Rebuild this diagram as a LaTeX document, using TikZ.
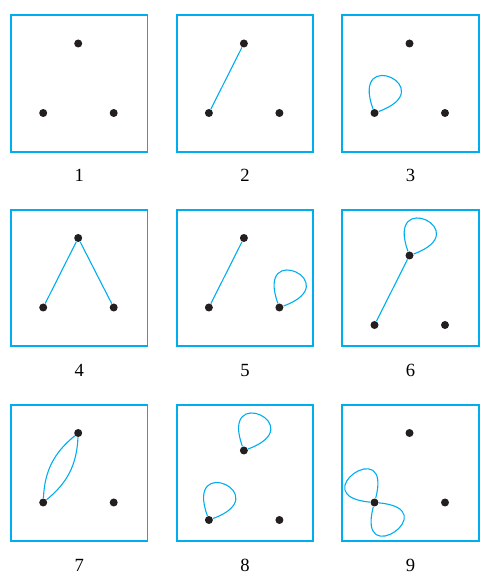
\documentclass[tikz,border=0pt]{standalone}
\usepackage{fontspec}
\setmainfont{Liberation Serif}
\usepackage{tikz}
\usetikzlibrary{positioning}
\definecolor{linecyan}{RGB}{0,174,239}
\definecolor{dotblack}{RGB}{35,31,32}

\begin{document}
\begin{tikzpicture}[
    x=0.5pt, y=0.5pt,
    box/.style={draw=linecyan, line width=0.9pt, minimum size=68.25pt, inner sep=0pt},
    dot/.style={circle, fill=dotblack, inner sep=0pt, minimum size=4pt},
    lbl/.style={font=\fontsize{9.3}{11}\selectfont, inner sep=0pt},
    edge/.style={draw=linecyan, line width=0.55pt},
    selfloop/.style 2 args={out=#1, in=#2, min distance=34pt}
]
    \useasboundingbox (0,0) rectangle (493,580);

    % frames, numbers and the three points of each graph
    \foreach \n/\cx/\cy/\dy in {1/79.2/496.5/0, 2/244.9/496.5/0, 3/410.5/496.5/0,
                                4/79.2/302/0,   5/244.9/302/0,   6/410.5/302/-17.5,
                                7/79.2/107/0,   8/244.9/107/-17.5, 9/410.5/107/0} {
        \node[box] (box\n) at (\cx,\cy) {};
        \node[lbl, below=8.3pt of box\n] (lbl\n) {\n};
        \node[dot] (a\n) at ({\cx-1},{\cy+40+\dy}) {};
        \node[dot] (b\n) at ({\cx-36},{\cy-29.5+\dy}) {};
        \node[dot] (c\n) at ({\cx+34.5},{\cy-29.5+\dy}) {};
    }

    % edges
    \draw[edge] (b2) -- (a2);
    \draw[edge] (b3) to[selfloop={110}{20}] (b3);
    \draw[edge] (b4) -- (a4) -- (c4);
    \draw[edge] (b5) -- (a5);
    \draw[edge] (c5) to[selfloop={110}{20}] (c5);
    \draw[edge] (b6) -- (a6);
    \draw[edge] (a6) to[selfloop={110}{20}] (a6);
    \draw[edge] (b7) to[bend left=24] (a7);
    \draw[edge] (b7) to[bend right=24] (a7);
    \draw[edge] (a8) to[selfloop={110}{20}] (a8);
    \draw[edge] (b8) to[selfloop={110}{20}] (b8);
    \draw[edge] (b9) to[selfloop={75}{175}] (b9);
    \draw[edge] (b9) to[selfloop={255}{355}] (b9);
\end{tikzpicture}
\end{document}
